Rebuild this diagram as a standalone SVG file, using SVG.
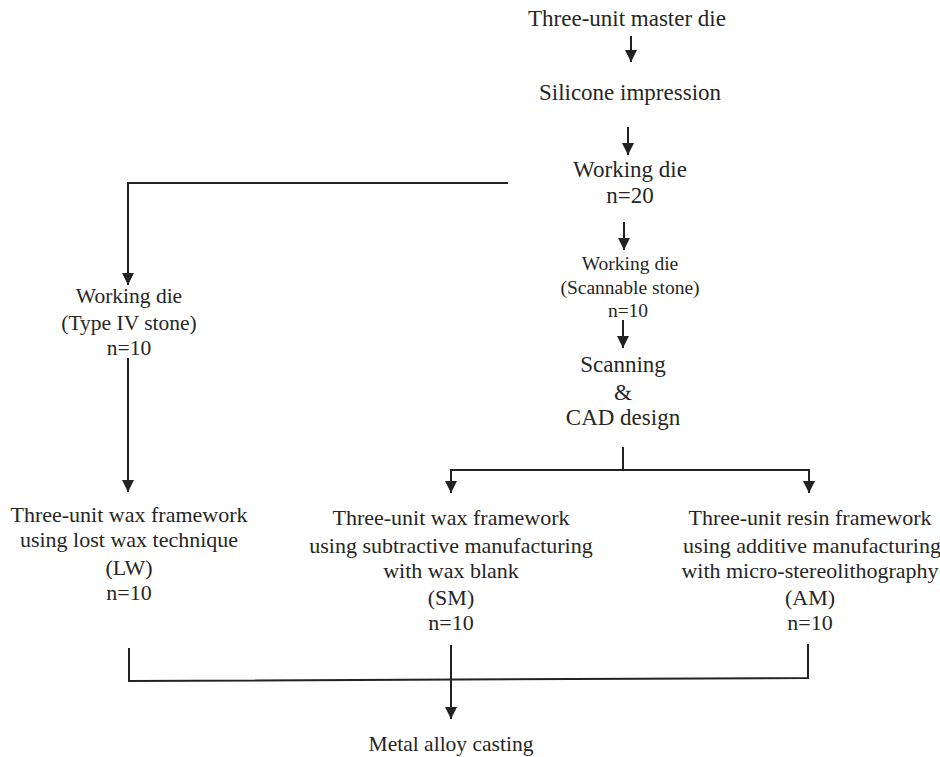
<svg xmlns="http://www.w3.org/2000/svg" width="940" height="757" viewBox="0 0 940 757">
<style>
text{font-family:"Liberation Serif","Times New Roman",serif;fill:#262626;text-anchor:middle}
.l{font-size:23px}
.m{font-size:21.5px}
.s{font-size:19.5px}
.b{font-size:22px}
.c{fill:none;stroke:#222;stroke-width:2}
</style>
<defs>
<marker id="ah" viewBox="0 0 12 12" markerWidth="12" markerHeight="12" refX="12" refY="6" orient="auto" markerUnits="userSpaceOnUse">
<path d="M0,0 L12,6 L0,12 z" fill="#222"/>
</marker>
</defs>
<rect width="940" height="757" fill="#fff"/>
<g id="connectors">
<line class="c" x1="631" y1="36" x2="631" y2="62" marker-end="url(#ah)"/>
<line class="c" x1="628" y1="127" x2="628" y2="155" marker-end="url(#ah)"/>
<polyline class="c" points="508,183 128,183 128,285" marker-end="url(#ah)"/>
<line class="c" x1="624" y1="222" x2="624" y2="250" marker-end="url(#ah)"/>
<line class="c" x1="623" y1="320" x2="623" y2="348" marker-end="url(#ah)"/>
<line class="c" x1="128" y1="358" x2="128" y2="492" marker-end="url(#ah)"/>
<line class="c" x1="623" y1="447" x2="623" y2="470"/>
<polyline class="c" points="623,470 451,470 451,493" marker-end="url(#ah)"/>
<polyline class="c" points="623,470 809,470 809,493" marker-end="url(#ah)"/>
<polyline class="c" points="129,648 129,681 808,678 808,644"/>
<line class="c" x1="451" y1="645" x2="451" y2="719" marker-end="url(#ah)"/>
</g>
<g id="master"><text class="l" x="627" y="26">Three-unit master die</text></g>
<g id="silicone"><text class="l" x="630" y="100">Silicone impression</text></g>
<g id="working20"><text class="l" x="630" y="177">Working die</text><text class="l" x="630" y="203">n=20</text></g>
<g id="scannable"><text class="s" x="630" y="270">Working die</text><text class="s" x="630" y="294">(Scannable stone)</text><text class="s" x="628" y="317">n=10</text></g>
<g id="type4"><text class="m" x="129" y="303">Working die</text><text class="m" x="129" y="330">(Type IV stone)</text><text class="m" x="129" y="355">n=10</text></g>
<g id="scanning"><text class="l" x="623" y="372">Scanning</text><text class="l" x="623" y="400">&amp;</text><text class="l" x="623" y="425">CAD design</text></g>
<g id="lw"><text class="b" x="129" y="522">Three-unit wax framework</text><text class="b" x="129" y="547">using lost wax technique</text><text class="b" x="129" y="575">(LW)</text><text class="b" x="129" y="600">n=10</text></g>
<g id="sm"><text class="b" x="451" y="525">Three-unit wax framework</text><text class="b" x="451" y="553">using subtractive manufacturing</text><text class="b" x="451" y="578">with wax blank</text><text class="b" x="451" y="605">(SM)</text><text class="b" x="451" y="630">n=10</text></g>
<g id="am"><text class="b" x="810" y="525">Three-unit resin framework</text><text class="b" x="812" y="553">using additive manufacturing</text><text class="b" x="810" y="578">with micro-stereolithography</text><text class="b" x="810" y="605">(AM)</text><text class="b" x="810" y="630">n=10</text></g>
<g id="casting"><text class="m" x="451" y="751">Metal alloy casting</text></g>
</svg>
